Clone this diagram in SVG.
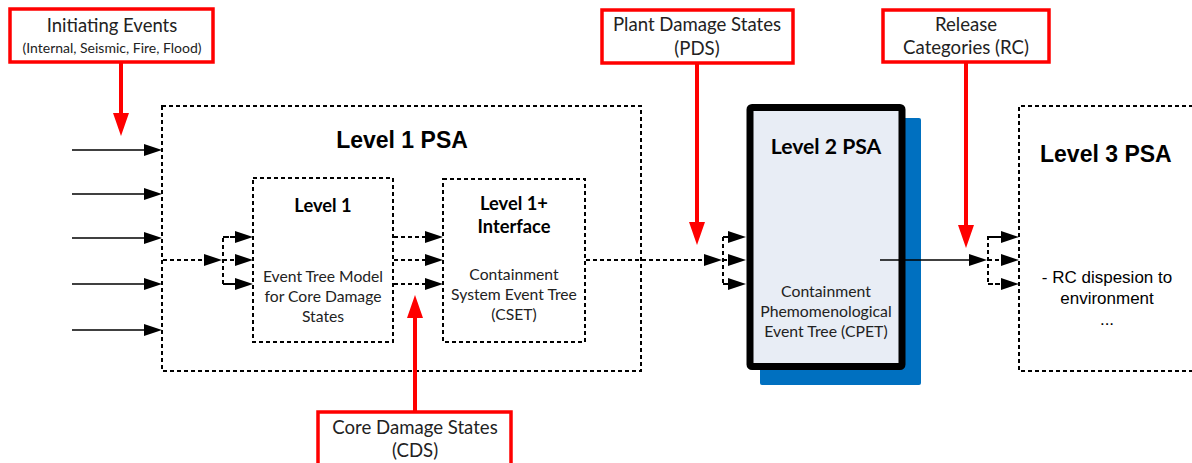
<svg xmlns="http://www.w3.org/2000/svg" width="1192" height="463" viewBox="0 0 1192 463">
<style>
.cal{font-family:Lato,"Open Sans","Noto Sans",sans-serif;fill:#222;}
.ari{font-family:"Liberation Sans",Arial,sans-serif;fill:#000;}
.b{font-weight:bold;fill:#000;}
.dash{fill:none;stroke:#000;stroke-width:2;stroke-dasharray:4 3;}
.red{fill:#fff;stroke:#f00;stroke-width:3.5;}
.rl{stroke:#f00;stroke-width:4;fill:none;}
.sl{stroke:#000;stroke-width:1.6;fill:none;}
.dl{stroke:#000;stroke-width:2;stroke-dasharray:4 3;fill:none;}
</style>
<defs>
<marker id="ah" markerUnits="userSpaceOnUse" viewBox="0 0 18 12" markerWidth="18" markerHeight="12" refX="2" refY="6" orient="auto"><path d="M0,0 L18,6 L0,12 z" fill="#000"/></marker>
<marker id="rh" markerUnits="userSpaceOnUse" viewBox="0 0 23 16" markerWidth="23" markerHeight="16" refX="2" refY="8" orient="auto"><path d="M0,0 L23,8 L0,16 z" fill="#f00"/></marker>
</defs>
<rect width="1192" height="463" fill="#fff"/>

<g id="level1psa">
<rect class="dash" x="162" y="106" width="479" height="265"/>
<text class="ari b" x="402" y="148" font-size="23" text-anchor="middle">Level 1 PSA</text>
</g>

<g id="level1">
<rect class="dash" x="253" y="178" width="140" height="164"/>
<text class="cal b" x="323" y="212" font-size="18.3" text-anchor="middle">Level 1</text>
<text class="cal" font-size="15.7" text-anchor="middle"><tspan x="323" y="282">Event Tree Model</tspan><tspan x="323" y="302">for Core Damage</tspan><tspan x="323" y="322">States</tspan></text>
</g>

<g id="level1plus">
<rect class="dash" x="443" y="179" width="142" height="163"/>
<text class="cal b" font-size="18.3" text-anchor="middle"><tspan x="514" y="210">Level 1+</tspan><tspan x="514" y="233">Interface</tspan></text>
<text class="cal" font-size="15.7" text-anchor="middle"><tspan x="514" y="280">Containment</tspan><tspan x="514" y="300">System Event Tree</tspan><tspan x="514" y="320">(CSET)</tspan></text>
</g>

<g id="level2psa">
<rect x="760" y="118" width="161" height="267" rx="2" fill="#0070C0"/>
<rect x="750" y="107.5" width="152" height="259" rx="2" fill="#E8EDF5" stroke="#000" stroke-width="7"/>
<text class="cal b" x="826" y="154" font-size="21.2" text-anchor="middle">Level 2 PSA</text>
<text class="cal" font-size="15.8" text-anchor="middle"><tspan x="826" y="297">Containment</tspan><tspan x="826" y="317">Phemomenological</tspan><tspan x="826" y="337">Event Tree (CPET)</tspan></text>
</g>

<g id="level3psa">
<path class="dash" d="M1200,106 H1019 V371 H1200"/>
<text class="ari b" x="1040" y="162" font-size="23">Level 3 PSA</text>
<text class="ari" font-size="17" text-anchor="middle"><tspan x="1107" y="283">- RC dispesion to</tspan><tspan x="1107" y="304">environment</tspan><tspan x="1107" y="325">...</tspan></text>
</g>

<g id="initiating">
<rect class="red" x="10" y="9" width="203" height="53"/>
<text class="cal" x="112" y="32" font-size="18.5" text-anchor="middle">Initiating Events</text>
<text class="cal" x="112" y="53" font-size="14" text-anchor="middle">(Internal, Seismic, Fire, Flood)</text>
</g>

<g id="pds">
<rect class="red" x="602" y="10" width="191" height="53"/>
<text class="cal" font-size="18.6" text-anchor="middle"><tspan x="697" y="31">Plant Damage States</tspan><tspan x="697" y="55">(PDS)</tspan></text>
</g>

<g id="rc">
<rect class="red" x="883" y="10" width="166" height="52"/>
<text class="cal" font-size="18.6" text-anchor="middle"><tspan x="966" y="31">Release</tspan><tspan x="966" y="54">Categories (RC)</tspan></text>
</g>

<g id="cds">
<rect class="red" x="318" y="412" width="193" height="60"/>
<text class="cal" font-size="18.6" text-anchor="middle"><tspan x="415" y="434">Core Damage States</tspan><tspan x="415" y="457">(CDS)</tspan></text>
</g>

<g id="connectors">
<line class="sl" x1="72" y1="150" x2="146" y2="150" marker-end="url(#ah)"/>
<line class="sl" x1="72" y1="194" x2="146" y2="194" marker-end="url(#ah)"/>
<line class="sl" x1="72" y1="238" x2="146" y2="238" marker-end="url(#ah)"/>
<line class="sl" x1="72" y1="284" x2="146" y2="284" marker-end="url(#ah)"/>
<line class="sl" x1="72" y1="330" x2="146" y2="330" marker-end="url(#ah)"/>

<line class="dl" x1="163" y1="260" x2="206" y2="260" marker-end="url(#ah)"/>
<path class="dl" d="M236,237 H223 V284 H236"/>
<line class="dl" x1="223" y1="237" x2="237" y2="237" marker-end="url(#ah)"/>
<line class="dl" x1="223" y1="260" x2="237" y2="260" marker-end="url(#ah)"/>
<line class="dl" x1="223" y1="284" x2="237" y2="284" marker-end="url(#ah)"/>

<line class="dl" x1="394" y1="237" x2="427" y2="237" marker-end="url(#ah)"/>
<line class="dl" x1="394" y1="260" x2="427" y2="260" marker-end="url(#ah)"/>
<line class="dl" x1="394" y1="284" x2="427" y2="284" marker-end="url(#ah)"/>

<line class="dl" x1="586" y1="260" x2="706" y2="260" marker-end="url(#ah)"/>
<path class="dl" d="M730,237 H723 V284 H730"/>
<line class="dl" x1="723" y1="237" x2="730" y2="237" marker-end="url(#ah)"/>
<line class="dl" x1="723" y1="260" x2="730" y2="260" marker-end="url(#ah)"/>
<line class="dl" x1="723" y1="284" x2="730" y2="284" marker-end="url(#ah)"/>

<line class="sl" x1="880" y1="260" x2="971" y2="260" marker-end="url(#ah)"/>
<path class="dl" d="M1003,237 H988 V284 H1003"/>
<line class="dl" x1="988" y1="237" x2="1003" y2="237" marker-end="url(#ah)"/>
<line class="dl" x1="988" y1="260" x2="1003" y2="260" marker-end="url(#ah)"/>
<line class="dl" x1="988" y1="284" x2="1003" y2="284" marker-end="url(#ah)"/>

<line class="rl" x1="121" y1="62" x2="121" y2="115" marker-end="url(#rh)"/>
<line class="rl" x1="697" y1="63" x2="697" y2="224" marker-end="url(#rh)"/>
<line class="rl" x1="966" y1="62" x2="966" y2="227" marker-end="url(#rh)"/>
<line class="rl" x1="415" y1="412" x2="415" y2="316" marker-end="url(#rh)"/>
</g>
</svg>
